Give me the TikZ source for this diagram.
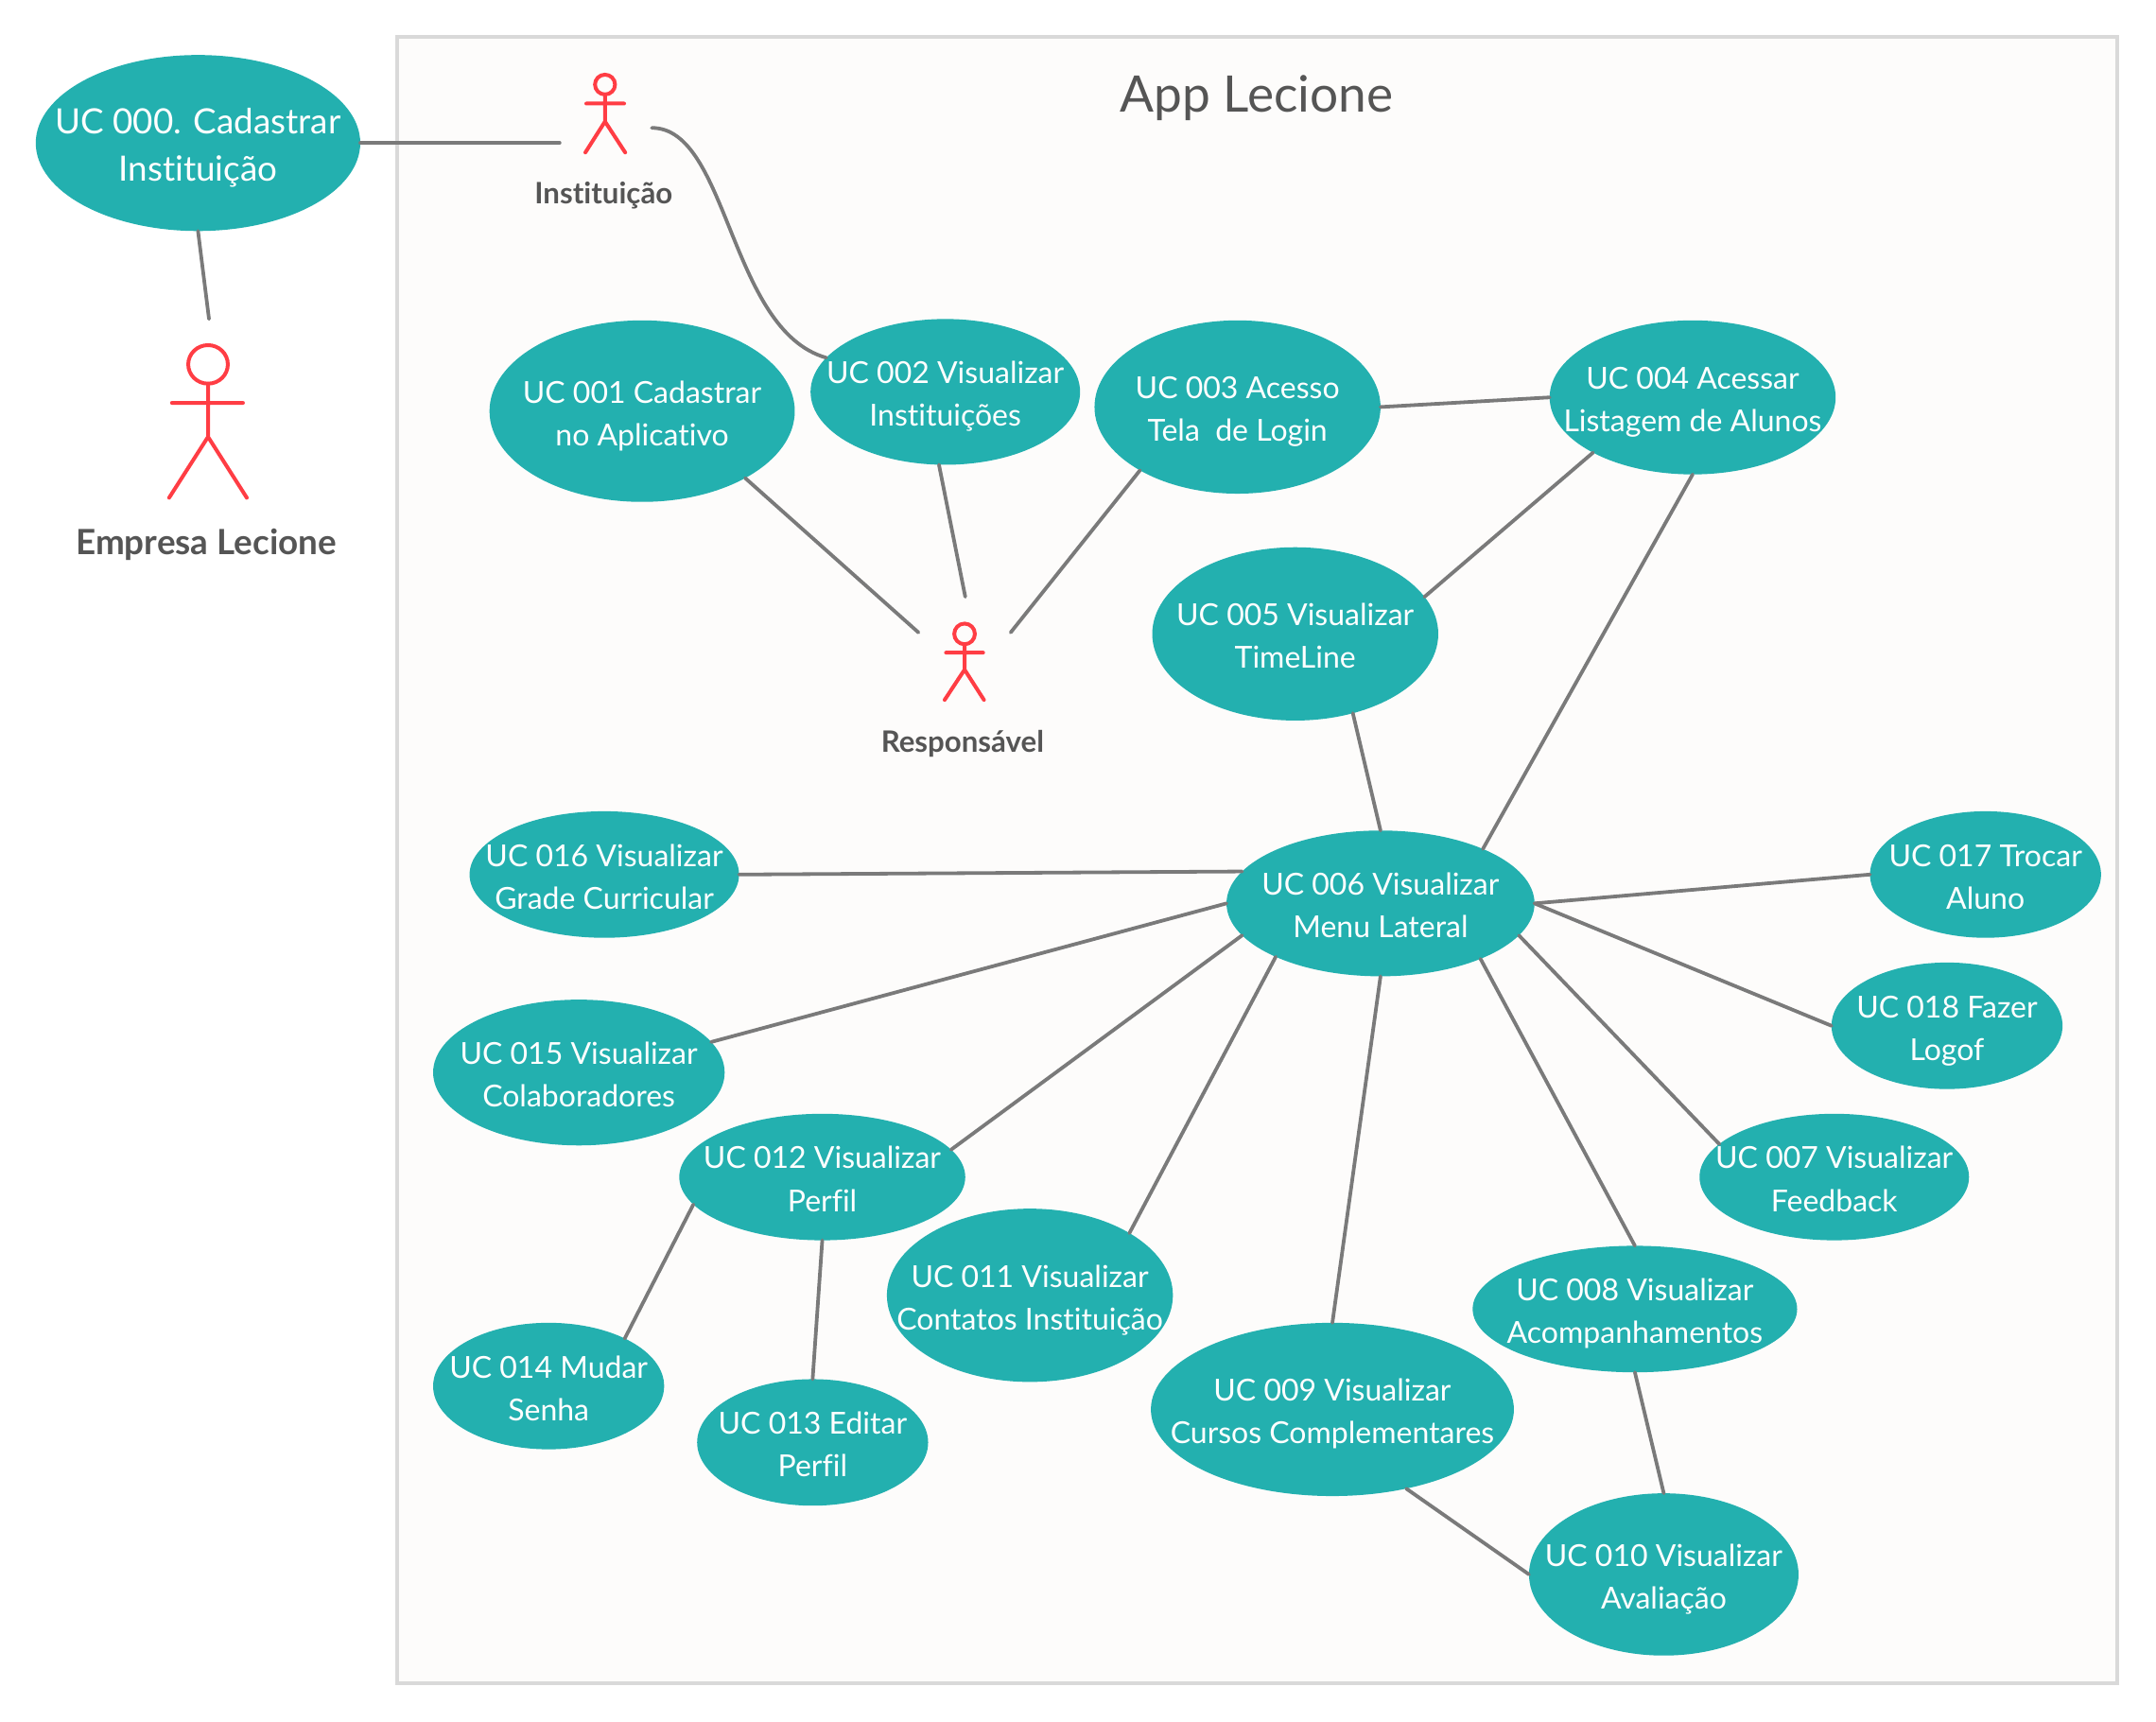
\documentclass[tikz,border=0pt]{standalone}
\usepackage{fontspec}
\setmainfont{Lato}[Ligatures=NoCommon]
\usetikzlibrary{shapes.geometric}
\definecolor{ucfill}{HTML}{23B0AF}
\definecolor{linegray}{HTML}{7A7A7A}
\definecolor{actorred}{HTML}{FF3D44}
\definecolor{framegray}{HTML}{D9D9D9}
\definecolor{framefill}{HTML}{FDFCFB}
\definecolor{labelgray}{HTML}{555555}
\newdimen\uu \uu=.72704pt
\newcommand\lbl[2]{\fontsize{16pt}{18pt}\selectfont\makebox[0pt][c]{\raisebox{6\uu}[0pt][0pt]{#1}}\makebox[0pt][c]{\raisebox{-25\uu}[0pt][0pt]{#2}}}
\newcommand\lblbig[2]{\fontsize{18.4pt}{20pt}\selectfont\makebox[0pt][c]{\raisebox{7\uu}[0pt][0pt]{#1}}\makebox[0pt][c]{\raisebox{-28\uu}[0pt][0pt]{#2}}}
\newcommand\uc[7]{\node[ucase,minimum width=2*#4*\uu,minimum height=2*#5*\uu] (#1) at (#2,#3) {\lbl{#6}{#7}};}
\tikzset{
  ucase/.style={ellipse,fill=ucfill,inner sep=0pt,outer sep=0pt,text=white},
  conn/.style={draw=linegray,line width=1.9pt,line cap=round},
  actorline/.style={draw=actorred,line width=2pt,line cap=round},
  actorname/.style={text=labelgray,font=\bfseries\fontsize{18.4pt}{22pt}\selectfont,inner sep=0pt},
  smallname/.style={actorname,font=\bfseries\fontsize{15.6pt}{18pt}\selectfont},
  frameline/.style={draw=framegray,fill=framefill,line width=2pt},
}
\begin{document}
\begin{tikzpicture}[x=.72704pt,y=-.72704pt]
\useasboundingbox (0,0) rectangle (1568,1251.7);
\draw[frameline] (289,27) rectangle (1540,1224);
\node[text=labelgray,font=\fontsize{26.6pt}{30pt}\selectfont,inner sep=0pt] (title) at (914,71) {App Lecione};

\node[ucase,minimum width=2*118*\uu,minimum height=2*64*\uu] (e0) at (144,104) {\lblbig{UC 000. Cadastrar}{Instituição}};
\uc{e1}{467}{299}{111}{66}{UC 001 Cadastrar}{no Aplicativo}
\uc{e2}{687.5}{285}{98}{53}{UC 002 Visualizar}{Instituições}
\uc{e3}{900}{296}{104}{63}{UC 003 Acesso}{Tela\ \ de Login}
\uc{e4}{1231}{289}{104}{56}{UC 004 Acessar}{Listagem de Alunos}
\uc{e5}{942}{461}{104}{63}{UC 005 Visualizar}{TimeLine}
\uc{e6}{1004}{657}{112}{53}{UC 006 Visualizar}{Menu Lateral}
\uc{e7}{1334}{856}{98}{46}{UC 007 Visualizar}{Feedback}
\uc{e8}{1189}{952}{118}{46}{UC 008 Visualizar}{Acompanhamentos}
\uc{e9}{969}{1025}{132}{63}{UC 009 Visualizar}{Cursos Complementares}
\uc{e10}{1210}{1145}{98}{59}{UC 010 Visualizar}{Avaliação}
\uc{e11}{749}{942}{104}{63}{UC 011 Visualizar}{Contatos Instituição}
\uc{e12}{598}{856}{104}{46}{UC 012 Visualizar}{Perfil}
\uc{e13}{591}{1049}{84}{46}{UC 013 Editar}{Perfil}
\uc{e14}{399}{1008}{84}{46}{UC 014 Mudar}{Senha}
\uc{e15}{421}{780}{106}{53}{UC 015 Visualizar}{Colaboradores}
\uc{e16}{439.5}{636}{98}{46}{UC 016 Visualizar}{Grade Curricular}
\uc{e17}{1444}{636}{84}{46}{UC 017 Trocar}{Aluno}
\uc{e18}{1416}{746}{84}{46}{UC 018 Fazer}{Logof}

% actors
\draw[actorline] (151.3,265) ellipse [x radius=14.4,y radius=14];
\draw[actorline] (125,293) -- (176.7,293) (151.3,279) -- (151.3,317.7) (123,362) -- (151.3,317.7) -- (179.5,362);
\node[actorname] (empresa) at (150,396) {Empresa Lecione};
\draw[actorline] (440,61.5) ellipse [x radius=7.3,y radius=7.2];
\draw[actorline] (426.4,75.3) -- (453.9,75.3) (440,68.7) -- (440,88.4) (425.7,110.9) -- (440,88.4) -- (454.7,110.9);
\node[smallname] (inst) at (439,142) {Instituição};
\draw[actorline] (701.5,461) ellipse [x radius=7.5,y radius=7.5];
\draw[actorline] (688,474.6) -- (715,474.6) (701.5,468.5) -- (701.5,487) (687,509) -- (701.5,487) -- (715.6,509);
\node[smallname] (resp) at (700,541) {Responsável};

% free ends
\coordinate (a0) at (152,232);
\coordinate (a1) at (407,104);
\coordinate (a2) at (474,93);
\coordinate (r1) at (668,460);
\coordinate (r2) at (702,434);
\coordinate (r3) at (735,460);

% connectors
\draw[conn] (e0.south) -- (a0);
\draw[conn] (e0.east) -- (a1);
\draw[conn] (a2) .. controls (530,93) and (530,240) .. (e2.164.7);
\draw[conn] (e1.-33) -- (r1);
\draw[conn] (e2.-95) -- (r2);
\draw[conn] (e3.213) -- (r3);
\draw[conn] (e3.east) -- (e4.west);
\draw[conn] (e4.209.4) -- (e5.16);
\draw[conn] (e4.south) -- (e6.28.5);
\draw[conn] (e5.-54) -- (e6.north);
\draw[conn] (e16.east) -- (e6.167.5);
\draw[conn] (e15.13.2) -- (e6.west);
\draw[conn] (e12.12) -- (e6.193.1);
\draw[conn] (e11.32) -- (e6.207.2);
\draw[conn] (e9.north) -- (e6.south);
\draw[conn] (e8.north) -- (e6.-29);
\draw[conn] (e7.164.6) -- (e6.-13.2);
\draw[conn] (e18.west) -- (e6.east);
\draw[conn] (e17.west) -- (e6.east);
\draw[conn] (e12.192.3) -- (e14.32.7);
\draw[conn] (e12.south) -- (e13.north);
\draw[conn] (e8.south) -- (e10.north);
\draw[conn] (e9.-47) -- (e10.west);
\end{tikzpicture}
\end{document}
